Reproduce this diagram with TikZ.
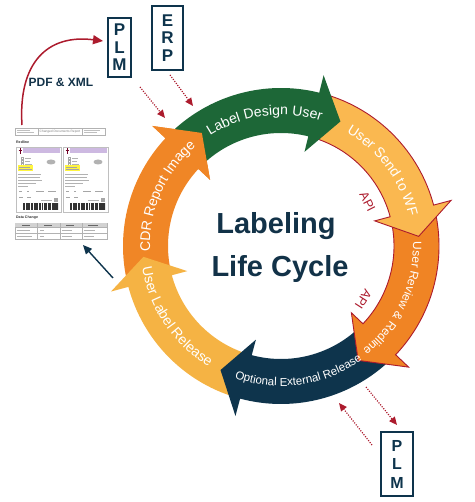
\documentclass[tikz,border=0pt]{standalone}
\usepackage{fontspec}
\setmainfont{Liberation Sans}
\usetikzlibrary{decorations.text,arrows.meta,calc}
\definecolor{cgreen}{RGB}{29,103,55}
\definecolor{cyelA}{RGB}{250,184,80}
\definecolor{cyelB}{RGB}{245,179,68}
\definecolor{corange}{RGB}{240,132,36}
\definecolor{ccdr}{RGB}{240,134,38}
\definecolor{cnavy}{RGB}{14,52,76}
\definecolor{cred}{RGB}{172,27,45}
\definecolor{ctitle}{RGB}{18,50,72}
\definecolor{cpurple}{RGB}{205,185,225}
\def\Rin{113}\def\Rout{158}\def\Rbi{97}\def\Rbo{176}\def\Rm{138}
\newcommand\ringarrow[4]{%
 \path[#1] (#2:\Rout pt) arc[start angle=#2,end angle=#3,radius=\Rout pt] -- (#3:\Rbo pt) -- (#4:\Rm pt) -- (#3:\Rbi pt) -- (#3:\Rin pt) arc[start angle=#3,end angle=#2,radius=\Rin pt] -- cycle;}
\newcommand\arctext[5]{%
 \path[decorate,decoration={text along path,text align=center,text color=white,text={|\fontsize{#1}{#1}\selectfont|#5}}] (#3:#2pt) arc[start angle=#3,end angle=#4,radius=#2pt];}
\tikzset{
 sysbox/.style={draw=cnavy,line width=1.8pt,text=cnavy,font=\bfseries\fontsize{17}{17.5}\selectfont,align=center,inner sep=0pt},
 dotarrow/.style={cred,line width=1.2pt,dash pattern=on 1.1pt off 1.4pt,-{Triangle[length=8pt,width=7pt]}},
 apitext/.style={text=cred,font=\fontsize{12.5}{12.5}\selectfont,inner sep=0pt},
 tinytext/.style={font=\fontsize{3.2}{3.2}\selectfont,text=gray,inner sep=0pt},
 tinybold/.style={font=\bfseries\fontsize{3.6}{3.6}\selectfont,text=black!80,inner sep=0pt,anchor=west}
}
\begin{document}
\begin{tikzpicture}[x=1pt,y=1pt]
\useasboundingbox (0,0) rectangle (474,502);
% ring
\begin{scope}[shift={(281,256)}]
\ringarrow{fill=ccdr}{193}{137}{125}
\ringarrow{fill=cyelB}{253}{195}{184.5}
\ringarrow{fill=cnavy}{314.5}{255}{244}
\ringarrow{fill=corange,draw=cred,line width=0.9pt}{13}{-43.5}{-56}
\ringarrow{fill=cyelA,draw=cred,line width=0.9pt}{74}{15}{4}
\ringarrow{fill=cgreen}{135}{76}{64.5}
\path[fill=ccdr] (137:\Rbo pt) -- (125:\Rm pt) -- (137:\Rbi pt) -- cycle;
\arctext{14}{131}{145}{50}{Label Design User}
\arctext{14}{131}{80}{-7}{User Send to WF}
\arctext{12}{132}{25}{-75}{User Review {\&} Redline}
\arctext{11.5}{140}{-140}{-24}{Optional External Release}
\arctext{14}{140.5}{164}{264}{User Label Release}
\arctext{14}{131}{205}{108}{CDR Report Image}
\node[apitext,rotate=-63] (api1) at (27:97pt) {API};
\node[apitext,rotate=-122.7] (api2) at (-33:98pt) {API};
\end{scope}
% title
\node[anchor=base,text=ctitle,font=\bfseries\fontsize{29}{29}\selectfont,inner sep=0pt] (t1) at (276,268) {Labeling};
\node[anchor=base,text=ctitle,font=\bfseries\fontsize{29}{29}\selectfont,inner sep=0pt] (t2) at (280,225) {Life Cycle};
% system boxes
\node[sysbox,minimum width=23pt,minimum height=59pt] (plm1) at (119.5,454.5) {P\\L\\M};
\node[sysbox,minimum width=31pt,minimum height=64pt] (erp) at (167.5,464) {E\\R\\P};
\node[sysbox,minimum width=32pt,minimum height=64pt,font=\bfseries\fontsize{16}{18.5}\selectfont] (plm2) at (397,38) {P\\L\\M};
% PDF & XML
\node[text=ctitle,font=\bfseries\fontsize{12}{12}\selectfont,inner sep=0pt] (pdf) at (61,420) {PDF \& XML};
% coordinates for free ends
\coordinate (docTop) at (22,377);
\coordinate (plmIn) at (103,461);
\coordinate (d1s) at (140,415);
\coordinate (d1e) at (165,384);
\coordinate (d2s) at (170,427);
\coordinate (d2e) at (193,396);
\coordinate (d3s) at (366,115);
\coordinate (d3e) at (397,77);
\coordinate (d4s) at (372,57);
\coordinate (d4e) at (339,99);
\coordinate (nas) at (113,224);
\coordinate (nae) at (83,257);
% connectors
\draw[cred,line width=1.5pt,-{Triangle[length=10pt,width=9pt]}] (docTop) .. controls (18,440) and (48,468) .. (plmIn);
\draw[dotarrow] (d1s) -- (d1e);
\draw[dotarrow] (d2s) -- (d2e);
\draw[dotarrow] (d3s) -- (d3e);
\draw[dotarrow] (d4s) -- (d4e);
\draw[cnavy,line width=1.4pt,-{Triangle[length=9pt,width=8pt]}] (nas) -- (nae);
% document thumbnail
\begin{scope}[line width=0.3pt]
\draw[gray!60,fill=white] (15,367) rectangle (105,374);
\draw[gray!60] (38,367)--(38,374) (82,367)--(82,374);
\node[tinytext] (dochead) at (60,370.5) {Changed Documents Report};
\draw[gray!50,line width=0.5pt] (17,372)--(30,372) (17,369.5)--(34,369.5) (84,372)--(100,372) (84,369.5)--(97,369.5);
\node[tinybold] (docred) at (16,360) {Redline};
\foreach \x in {16,63}{
 \draw[gray!50,fill=white] (\x,290) rectangle ++(45,65);
 \fill[cpurple] (\x+7,349) rectangle ++(37,5);
 \draw[purple!60!black,line width=0.5pt] (\x+4,353.5)--(\x+4,348) (\x+2.5,352)--(\x+5.5,352);
 \draw[gray!70,line width=0.25pt] (\x+5,343) rectangle ++(2,2) (\x+5,340) rectangle ++(2,2) (\x+5,337) rectangle ++(2,2);
 \draw[gray!60,line width=0.6pt] (\x+9,344)--(\x+15,344) (\x+9,341)--(\x+14,341) (\x+9,338)--(\x+16,338);
 \fill[gray!60] (\x+35,340) ellipse (4.5 and 2.5);
 \fill[yellow!75] (\x+2,331) rectangle ++(15,5.5);
 \draw[gray!70,line width=0.5pt] (\x+3,334.8)--(\x+14,334.8) (\x+3,332.5)--(\x+16,332.5);
 \draw[gray!60,line width=0.6pt] (\x+2,328)--(\x+25,328) (\x+2,325)--(\x+24,325) (\x+2,322)--(\x+26,322) (\x+2,319)--(\x+20,319) (\x+2,316)--(\x+12,316);
 \draw[gray!70,line width=0.8pt] (\x+3,311)--(\x+6,311) (\x+11,311)--(\x+13,311) (\x+20,311)--(\x+28,311) (\x+32,311)--(\x+40,311);
 \draw[gray!70,line width=0.8pt] (\x+3,305)--(\x+7,305) (\x+11,305)--(\x+15,305);
 \draw[gray!60,line width=0.4pt] (\x+25,302)--(\x+36,302);
 \fill[gray!70] (\x+38,300) rectangle ++(4,4);
 \draw[black!80,line width=6.5pt,dash pattern=on 0.6pt off 0.5pt on 1.2pt off 0.6pt on 0.4pt off 0.5pt on 0.9pt off 0.4pt on 0.5pt off 0.7pt on 1pt off 0.5pt] (\x+7,295.5)--(\x+42,295.5);
}
\node[tinybold] (docdata) at (16,284) {Data Change};
\draw[gray!60,fill=white] (15,263) rectangle (107,279);
\fill[gray!35] (15,275) rectangle (107,279);
\draw[gray!60] (15,275)--(107,275) (15,269)--(107,269) (37,263)--(37,279) (60,263)--(60,279) (82,263)--(82,279);
\draw[gray!60,line width=0.5pt] (17,272)--(30,272) (17,266)--(32,266) (40,272)--(44,272) (40,266)--(44,266) (62,272)--(72,272) (62,266)--(72,266) (84,272)--(95,272) (84,266)--(94,266);
\draw[black!60,line width=0.5pt] (22,277)--(30,277) (44,277)--(52,277) (66,277)--(74,277) (88,277)--(98,277);
\end{scope}
\end{tikzpicture}
\end{document}
